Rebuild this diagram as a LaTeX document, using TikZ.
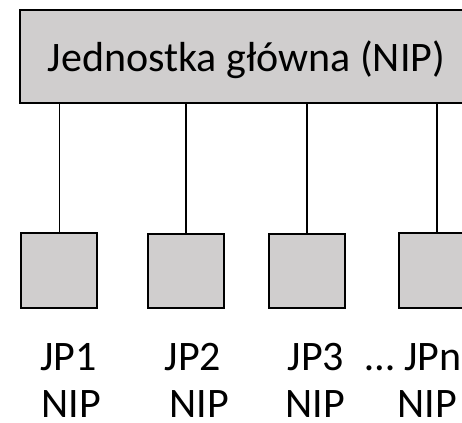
\documentclass[tikz,border=0pt]{standalone}
\usepackage{fontspec}
\setmainfont{Carlito}
\definecolor{unitgray}{HTML}{D0CECE}
\begin{document}
\begin{tikzpicture}[x=1pt,y=-1pt,
  unit/.style={draw=black, line width=2pt, fill=unitgray, inner sep=0pt, anchor=north west},
  link/.style={draw=black, line width=1.8pt},
  lab/.style={font=\fontsize{42}{48}\selectfont, inner sep=0pt, anchor=base}]
  \useasboundingbox (0,0) rectangle (462,422);
  \begin{scope}
    \clip (0,0) rectangle (462,422);
    % main unit
    \node[unit, minimum width=455pt, minimum height=92.7pt] (main) at (19,9) {};
    % subordinate units
    \node[unit, minimum width=76pt, minimum height=74.4pt] (u1) at (20,232.3) {};
    \node[unit, minimum width=76pt, minimum height=73.4pt] (u2) at (147,233.3) {};
    \node[unit, minimum width=76pt, minimum height=73.4pt] (u3) at (268,233.3) {};
    \node[unit, minimum width=76pt, minimum height=74.7pt] (u4) at (398,232) {};
    % connections
    \draw[link, line width=1pt] (main.south -| u1.north) -- (u1.north);
    \draw[link] (main.south -| u2.north) -- (u2.north);
    \draw[link] (main.south -| u3.north) -- (u3.north);
    \draw[link] (main.south -| u4.north) -- (u4.north);
  \end{scope}
  \node[lab] (title) at (246.5,71.7) {Jednostka główna (NIP)};
  \node[lab] (j1) at (68.5,370) {JP1};
  \node[lab] (j2) at (193,370) {JP2};
  \node[lab] (j3) at (316,370) {JP3};
  \node[lab] (jn) at (413.5,370) {… JPn};
  \node[lab] (n1) at (71.5,417.5) {NIP};
  \node[lab] (n2) at (199,417.5) {NIP};
  \node[lab] (n3) at (315,417.5) {NIP};
  \node[lab] (n4) at (427.5,417.5) {NIP};
\end{tikzpicture}
\end{document}
